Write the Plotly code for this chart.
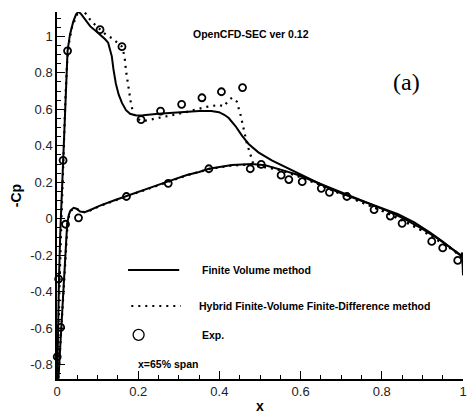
import plotly.graph_objects as go

# ---------------- data ----------------
fv_upper_x = [0.0, 0.002, 0.005, 0.008, 0.011, 0.013, 0.015, 0.018, 0.022, 0.026, 0.032, 0.04, 0.047, 0.053,
              0.06, 0.07, 0.082, 0.095, 0.106, 0.118, 0.126, 0.131, 0.135, 0.139, 0.145, 0.152, 0.16, 0.17,
              0.18, 0.195, 0.212, 0.25, 0.3, 0.35, 0.38, 0.399, 0.412, 0.423, 0.44, 0.456, 0.472, 0.496,
              0.529, 0.578, 0.626, 0.667, 0.70, 0.748, 0.80, 0.84, 0.88, 0.919, 0.95, 0.975, 0.99, 0.996,
              0.998, 1.0]
fv_upper_y = [-0.95, -0.62, -0.32, -0.08, 0.1, 0.2, 0.32, 0.52, 0.76, 0.92, 1.01, 1.08, 1.12, 1.135,
              1.12, 1.09, 1.054, 1.03, 1.01, 0.985, 0.965, 0.93, 0.89, 0.82, 0.74, 0.68, 0.635, 0.595,
              0.575, 0.566, 0.567, 0.575, 0.584, 0.59, 0.59, 0.584, 0.57, 0.552, 0.507, 0.454, 0.41, 0.364,
              0.32, 0.266, 0.212, 0.17, 0.14, 0.1, 0.058, 0.025, -0.02, -0.075, -0.125, -0.17, -0.195, -0.2,
              -0.185, -0.31]

fv_lower_x = [0.0, 0.004, 0.008, 0.013, 0.018, 0.022, 0.025, 0.029, 0.033, 0.041, 0.048, 0.057, 0.068,
              0.082, 0.106, 0.14, 0.171, 0.22, 0.274, 0.32, 0.35, 0.374, 0.405, 0.431, 0.48, 0.513, 0.553,
              0.594, 0.643, 0.683, 0.72, 0.748, 0.78, 0.82, 0.86, 0.90, 0.94, 0.97, 0.99, 1.0]
fv_lower_y = [-0.95, -0.86, -0.7, -0.5, -0.3, -0.14, -0.03, 0.02, 0.045, 0.06, 0.055, 0.04, 0.036,
              0.048, 0.072, 0.1, 0.125, 0.162, 0.205, 0.24, 0.256, 0.274, 0.287, 0.294, 0.3, 0.293, 0.268,
              0.24, 0.196, 0.16, 0.126, 0.102, 0.074, 0.038, -0.006, -0.056, -0.112, -0.158, -0.192, -0.215]

hy_upper_x = [0.0, 0.003, 0.007, 0.011, 0.014, 0.017, 0.021, 0.025, 0.03, 0.037, 0.045, 0.053, 0.062,
              0.072, 0.082, 0.095, 0.106, 0.12, 0.135, 0.15, 0.159, 0.164, 0.167, 0.17, 0.175, 0.183,
              0.19, 0.2, 0.212, 0.24, 0.269, 0.31, 0.366, 0.399, 0.411, 0.423, 0.431, 0.443, 0.452, 0.46,
              0.468, 0.476, 0.482, 0.49, 0.504, 0.545, 0.594, 0.643, 0.70, 0.75, 0.80, 0.85, 0.90, 0.95,
              0.98, 0.995, 1.0]
hy_upper_y = [-0.95, -0.62, -0.3, 0.0, 0.22, 0.42, 0.68, 0.86, 0.97, 1.05, 1.1, 1.14, 1.15,
              1.12, 1.09, 1.06, 1.036, 1.01, 0.99, 0.962, 0.946, 0.91, 0.875, 0.81, 0.73, 0.62,
              0.57, 0.545, 0.535, 0.548, 0.565, 0.58, 0.612, 0.624, 0.615, 0.65, 0.663, 0.642, 0.57, 0.48,
              0.41, 0.355, 0.31, 0.29, 0.285, 0.27, 0.232, 0.19, 0.135, 0.092, 0.046, -0.006, -0.066, -0.135,
              -0.18, -0.21, -0.25]

hy_lower_x = [0.0, 0.004, 0.008, 0.013, 0.018, 0.022, 0.026, 0.03, 0.035, 0.043, 0.05, 0.058, 0.068,
              0.082, 0.106, 0.14, 0.171, 0.22, 0.274, 0.32, 0.374, 0.431, 0.48, 0.513, 0.553, 0.594,
              0.643, 0.70, 0.75, 0.80, 0.85, 0.90, 0.95, 0.98, 1.0]
hy_lower_y = [-0.95, -0.86, -0.7, -0.5, -0.3, -0.14, -0.03, 0.02, 0.045, 0.058, 0.054, 0.04, 0.036,
              0.046, 0.07, 0.098, 0.122, 0.16, 0.203, 0.238, 0.272, 0.292, 0.297, 0.29, 0.264,
              0.236, 0.19, 0.136, 0.09, 0.044, -0.01, -0.064, -0.13, -0.175, -0.22]

exp_x = [0.015, 0.026, 0.106, 0.16, 0.207, 0.255, 0.307, 0.357, 0.405, 0.457,
         0.476, 0.503, 0.552, 0.571, 0.604, 0.651, 0.671, 0.714, 0.781, 0.821, 0.85, 0.923, 0.95, 0.987,
         0.171, 0.274, 0.374, 0.021, 0.053, 0.004, 0.009, 0.0005]
exp_y = [0.32, 0.92, 1.036, 0.943, 0.543, 0.59, 0.627, 0.663, 0.696, 0.719,
         0.274, 0.298, 0.239, 0.215, 0.203, 0.167, 0.145, 0.122, 0.05, 0.015, -0.025, -0.124, -0.16, -0.228,
         0.122, 0.194, 0.274, -0.03, 0.005, -0.33, -0.595, -0.756]

x_ticks = [0, 0.2, 0.4, 0.6, 0.8, 1]
x_labels = ["0", "0.2", "0.4", "0.6", "0.8", "1"]
y_ticks = [-0.8, -0.6, -0.4, -0.2, 0, 0.2, 0.4, 0.6, 0.8, 1]
y_labels = ["-0.8", "-0.6", "-0.4", "-0.2", "0", "0.2", "0.4", "0.6", "0.8", "1"]

legend_labels = ["Finite Volume method", "Hybrid Finite-Volume Finite-Difference method", "Exp."]

# ---------------- figure ----------------
FONT = "Liberation Sans, Arial, sans-serif"
DOT = "2px,5px"

fig = go.Figure()
fig.add_trace(go.Scatter(x=fv_upper_x, y=fv_upper_y, mode="lines",
                         line=dict(color="black", width=2), name=legend_labels[0], showlegend=False))
fig.add_trace(go.Scatter(x=fv_lower_x, y=fv_lower_y, mode="lines",
                         line=dict(color="black", width=2), name=legend_labels[0], showlegend=False))
fig.add_trace(go.Scatter(x=hy_upper_x, y=hy_upper_y, mode="lines",
                         line=dict(color="black", width=2.2, dash=DOT), name=legend_labels[1], showlegend=False))
fig.add_trace(go.Scatter(x=hy_lower_x, y=hy_lower_y, mode="lines",
                         line=dict(color="black", width=2.2, dash=DOT), name=legend_labels[1], showlegend=False))
fig.add_trace(go.Scatter(x=exp_x, y=exp_y, mode="markers",
                         marker=dict(symbol="circle-open", size=7, color="black", line=dict(width=1.8)),
                         name=legend_labels[2], showlegend=False, cliponaxis=False))

# manual legend
fig.add_shape(type="line", x0=0.175, x1=0.301, y0=-0.281, y1=-0.281, line=dict(color="black", width=2))
fig.add_shape(type="line", x0=0.183, x1=0.305, y0=-0.478, y1=-0.478, line=dict(color="black", width=2.2, dash=DOT))
fig.add_trace(go.Scatter(x=[0.201], y=[-0.636], mode="markers",
                         marker=dict(symbol="circle-open", size=11, color="black", line=dict(width=1.3)),
                         showlegend=False, hoverinfo="skip"))
legend_pos = [(0.352, -0.281), (0.346, -0.478), (0.352, -0.636)]
for (lx, ly), txt in zip(legend_pos, legend_labels):
    fig.add_annotation(x=lx, y=ly, text="<b>%s</b>" % txt, showarrow=False, xanchor="left", yanchor="middle",
                       font=dict(family=FONT, size=10.5, color="black"))

fig.add_annotation(x=0.194, y=-0.797, text="<b>x=65% span</b>", showarrow=False, xanchor="left",
                   yanchor="middle", font=dict(family=FONT, size=10.5, color="black"))
fig.add_annotation(x=0.479, y=1.014, text="<b>OpenCFD-SEC ver 0.12</b>", showarrow=False,
                   xanchor="center", yanchor="middle", font=dict(family=FONT, size=10.5, color="black"))
fig.add_annotation(x=0.862, y=0.751, text="(a)", showarrow=False, xanchor="center", yanchor="middle",
                   font=dict(family="Liberation Serif, Times New Roman, serif", size=24, color="black"))

axis_common = dict(showline=True, linecolor="black", linewidth=1.5, ticks="inside", ticklen=8, tickwidth=1.3,
                   tickcolor="black", showgrid=False, zeroline=False, mirror=False,
                   tickfont=dict(family=FONT, size=13, color="#222"),
                   minor=dict(dtick=0.05, ticks="inside", ticklen=4, tickwidth=1, tickcolor="black", showgrid=False))

fig.update_xaxes(range=[0, 1], tickvals=x_ticks, ticktext=x_labels, **axis_common,
                 title=dict(text="<b>x</b>", font=dict(family=FONT, size=14, color="black"), standoff=3))
fig.update_yaxes(range=[-0.878, 1.133], tickvals=y_ticks, ticktext=y_labels, **axis_common,
                 title=dict(text="<b>-Cp</b>", font=dict(family=FONT, size=14, color="black"), standoff=5))

fig.update_layout(width=472, height=417, margin=dict(l=57, r=5, t=12, b=31),
                  plot_bgcolor="white", paper_bgcolor="white", showlegend=False)

fig.write_html("out.html", config={"displayModeBar": False},
               post_script="document.body.style.margin='0';document.body.style.padding='0';"
                           "document.body.style.overflow='hidden';")
